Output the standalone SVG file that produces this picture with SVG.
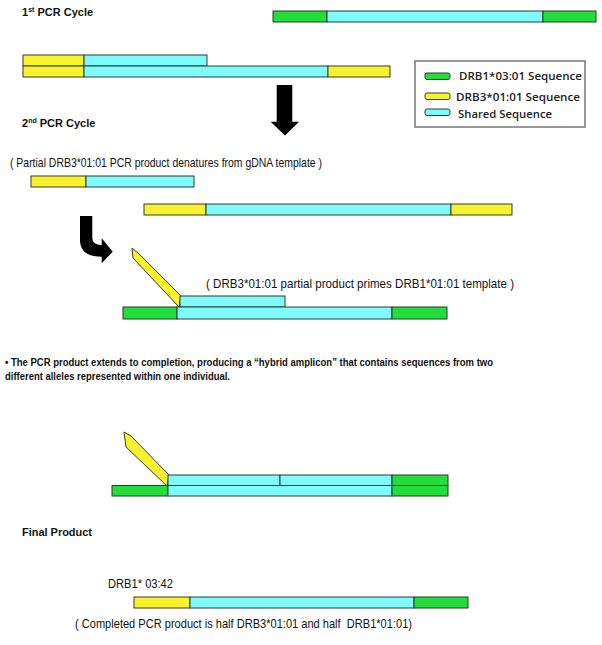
<svg xmlns="http://www.w3.org/2000/svg" width="602" height="645" viewBox="0 0 602 645">
<style>
.g{fill:#22dd3c;stroke:#2b3b2b;stroke-width:1}
.y{fill:#f8f22e;stroke:#3b3a2a;stroke-width:1}
.c{fill:#80fbfb;stroke:#2b3b3b;stroke-width:1}
.t{font-family:"Liberation Sans",Arial,sans-serif;fill:#111}
.b{font-weight:bold}
.lg{font-family:"Open Sans","Liberation Sans",sans-serif;font-weight:600;font-size:11px;fill:#222}
.arr{fill:#000}
</style>
<rect width="602" height="645" fill="#fff"/>

<g id="title1"><text class="t b" x="22" y="16" font-size="11">1<tspan font-size="7" dy="-4">st</tspan><tspan dy="4"> PCR Cycle</tspan></text></g>

<g id="gdna-top">
<rect class="g" x="273" y="11" width="54" height="11"/>
<rect class="c" x="327" y="11" width="216" height="11"/>
<rect class="g" x="543" y="11" width="53" height="11"/>
</g>

<g id="cycle1-strands">
<rect class="y" x="23" y="55" width="61" height="11"/>
<rect class="c" x="84" y="55" width="123" height="11"/>
<rect class="y" x="23" y="66" width="61" height="11"/>
<rect class="c" x="84" y="66" width="244" height="11"/>
<rect class="y" x="328" y="66" width="62" height="11"/>
</g>

<g id="legend">
<rect x="415" y="61" width="170" height="66" fill="#fff" stroke="#777" stroke-width="1.5"/>
<rect class="g" x="425" y="73" width="25" height="6.5" rx="2"/>
<text class="lg" x="459" y="80" textLength="123" lengthAdjust="spacingAndGlyphs">DRB1*03:01 Sequence</text>
<rect class="y" x="425" y="93" width="25" height="6.5" rx="2"/>
<text class="lg" x="456" y="101" textLength="124" lengthAdjust="spacingAndGlyphs">DRB3*01:01 Sequence</text>
<rect class="c" x="425" y="109" width="25" height="6.5" rx="2"/>
<text class="lg" x="458" y="117.5" textLength="94" lengthAdjust="spacingAndGlyphs">Shared Sequence</text>
</g>

<g id="title2"><text class="t b" x="22" y="127" font-size="11">2<tspan font-size="7" dy="-4">nd</tspan><tspan dy="4"> PCR Cycle</tspan></text></g>

<g id="label-denature"><text class="t" x="10" y="167" font-size="13" textLength="312" lengthAdjust="spacingAndGlyphs">( Partial DRB3*01:01 PCR product denatures from gDNA template )</text></g>

<g id="partial-product">
<rect class="y" x="31" y="176" width="55" height="11"/>
<rect class="c" x="86" y="176" width="108" height="11"/>
</g>

<g id="drb3-template">
<rect class="y" x="144" y="204" width="62" height="11"/>
<rect class="c" x="206" y="204" width="245" height="11"/>
<rect class="y" x="451" y="204" width="61" height="11"/>
</g>

<g id="priming">
<polygon class="y" points="132,248 138,253 181,296 179,307 133,258"/>
<rect class="c" x="180" y="296" width="105" height="11"/>
<rect class="g" x="123" y="307" width="54" height="12"/>
<rect class="c" x="177" y="307" width="215" height="12"/>
<rect class="g" x="392" y="307" width="55" height="12"/>
</g>

<g id="label-primes"><text class="t" x="206" y="288" font-size="13" textLength="308" lengthAdjust="spacingAndGlyphs">( DRB3*01:01 partial product primes DRB1*01:01 template )</text></g>

<g id="bullet">
<text class="t b" x="5" y="366" font-size="11" textLength="488" lengthAdjust="spacingAndGlyphs">• The PCR product extends to completion, producing a “hybrid amplicon” that contains sequences from two</text>
<text class="t b" x="5" y="380" font-size="11" textLength="225" lengthAdjust="spacingAndGlyphs">different alleles represented within one individual.</text>
</g>

<g id="extension">
<polygon class="y" points="124,432 131,436 169,475 167,486 126,447"/>
<rect class="c" x="168" y="475" width="112" height="10.5"/>
<rect class="c" x="280" y="475" width="112" height="10.5"/>
<rect class="g" x="392" y="475" width="56" height="10.5"/>
<rect class="g" x="112" y="485.5" width="56" height="10.5"/>
<rect class="c" x="168" y="485.5" width="224" height="10.5"/>
<rect class="g" x="392" y="485.5" width="56" height="10.5"/>
</g>

<g id="title3"><text class="t b" x="22" y="536" font-size="11" textLength="70" lengthAdjust="spacingAndGlyphs">Final Product</text></g>

<g id="final-product">
<text class="t" x="108" y="588" font-size="12.5" textLength="65" lengthAdjust="spacingAndGlyphs">DRB1* 03:42</text>
<rect class="y" x="134" y="597" width="56" height="11"/>
<rect class="c" x="190" y="597" width="224" height="11"/>
<rect class="g" x="414" y="597" width="54" height="11"/>
</g>

<g id="label-final"><text class="t" x="75" y="628" font-size="13" textLength="337" lengthAdjust="spacingAndGlyphs" xml:space="preserve">( Completed PCR product is half DRB3*01:01 and half  DRB1*01:01)</text></g>

<g id="connectors">
<path class="arr" d="M276.7,85 H292.3 V121.7 H299 L285,135.5 L270.7,121.7 H276.7 Z"/>
<path class="arr" d="M80,216 H92.3 V238 Q92.3,245 101.7,245 V238.3 L112.7,251.7 L101.7,263.3 V256.7 Q80,256.7 80,240 Z"/>
</g>
</svg>
